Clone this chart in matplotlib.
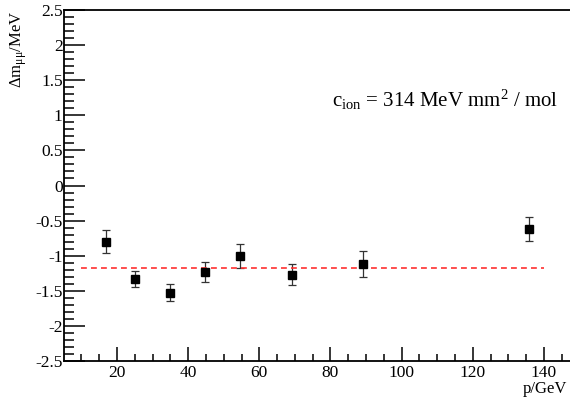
import matplotlib
matplotlib.use("Agg")
import matplotlib.pyplot as plt
from matplotlib.ticker import MultipleLocator, FuncFormatter

plt.rcParams["font.family"] = ["Liberation Serif", "DejaVu Serif"]
plt.rcParams["mathtext.fontset"] = "custom"
plt.rcParams["mathtext.rm"] = "Liberation Serif"
plt.rcParams["mathtext.it"] = "Liberation Serif:italic"
plt.rcParams["axes.unicode_minus"] = False

# measured points
p_gev = [16.9, 25.1, 34.8, 44.8, 54.6, 69.3, 89.2, 135.9]
dm_mev = [-0.80, -1.33, -1.53, -1.23, -1.01, -1.27, -1.12, -0.62]
dm_err = [0.16, 0.11, 0.12, 0.145, 0.17, 0.15, 0.19, 0.17]

# fitted constant
fit_value = -1.18
fit_range = [10, 140]

fig = plt.figure(figsize=(5.70, 4.01), dpi=100)
ax = fig.add_axes([64 / 570, 40 / 401, 508 / 570, 351 / 401])

ax.errorbar(p_gev, dm_mev, yerr=dm_err, fmt="s", color="black",
            markersize=5.5, ecolor="#333333", elinewidth=0.9,
            capsize=2.8, capthick=0.9)
ax.plot(fit_range, [fit_value, fit_value], color="#ff3030",
        linestyle=(0, (3.5, 2.5)), linewidth=1.2)

ax.set_xlim(5.1, 147.9)
ax.set_ylim(-2.5, 2.5)

ax.xaxis.set_major_locator(MultipleLocator(20))
ax.xaxis.set_minor_locator(MultipleLocator(5))
ax.yaxis.set_major_locator(MultipleLocator(0.5))
ax.yaxis.set_minor_locator(MultipleLocator(0.1))

fmt = FuncFormatter(lambda v, pos: "" if v > 147 else "%g" % round(v, 2))
ax.xaxis.set_major_formatter(fmt)
ax.yaxis.set_major_formatter(fmt)

ax.tick_params(axis="both", which="both", direction="in", top=False,
               right=False, labelsize=12.5, width=1.1)
ax.tick_params(axis="x", which="major", length=10, pad=3)
ax.tick_params(axis="x", which="minor", length=5)
ax.tick_params(axis="y", which="major", length=15, pad=1)
ax.tick_params(axis="y", which="minor", length=7.5)

for s in ["left", "bottom", "top"]:
    ax.spines[s].set_linewidth(1.3)
ax.spines["right"].set_visible(False)

fig.text(19 / 570, 1 - 11 / 401, r"Δm$_{\mathrm{μμ}}$/MeV", rotation=90,
         ha="center", va="top", fontsize=12)
fig.text(567 / 570, 1 - 393 / 401, "p/GeV", ha="right", va="baseline",
         fontsize=12)
fig.text(332 / 570, 1 - 107 / 401, r"c$_{\mathrm{ion}}$ = 314 MeV mm$^{2}$ / mol",
         ha="left", va="baseline", fontsize=15)

fig.savefig("out.png", dpi=100)
